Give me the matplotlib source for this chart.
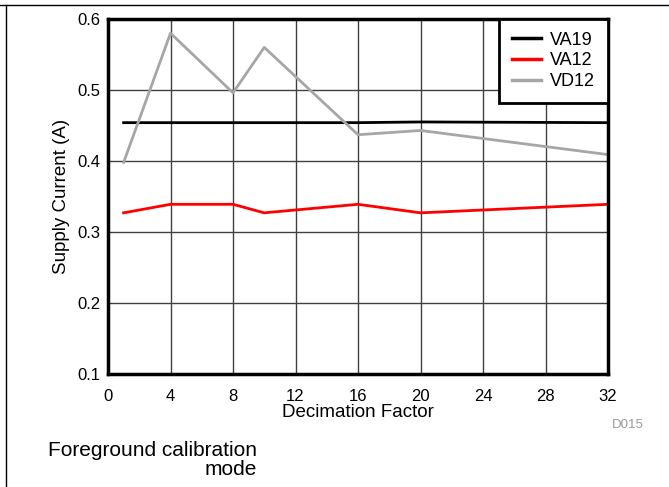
import matplotlib
matplotlib.use("Agg")
import matplotlib.pyplot as plt
from matplotlib.lines import Line2D

plt.rcParams['font.family'] = ['Liberation Sans', 'DejaVu Sans']

decimation = [1, 4, 8, 10, 16, 20, 32]
va19 = [0.454, 0.454, 0.454, 0.454, 0.454, 0.455, 0.454]
va12 = [0.327, 0.339, 0.339, 0.327, 0.339, 0.327, 0.339]
vd12 = [0.398, 0.580, 0.496, 0.560, 0.437, 0.443, 0.409]
x_ticks = [0, 4, 8, 12, 16, 20, 24, 28, 32]
y_ticks = [0.1, 0.2, 0.3, 0.4, 0.5, 0.6]

W, H = 669, 487
fig = plt.figure(figsize=(W/100, H/100), dpi=100)
ax = fig.add_axes([108/W, 1-374/H, 500/W, 355/H])

ax.plot(decimation, va19, color='black', lw=2, label='VA19')
ax.plot(decimation, va12, color='#ff0000', lw=2, label='VA12')
ax.plot(decimation, vd12, color='#a6a6a6', lw=2, label='VD12')

ax.set_xlim(0, 32)
ax.set_ylim(0.1, 0.6)
ax.set_xticks(x_ticks)
ax.set_yticks(y_ticks)
ax.set_yticklabels([f"{v:.1f}" for v in y_ticks])
ax.tick_params(length=0, labelsize=12)
ax.tick_params(axis='x', pad=10.5)
ax.tick_params(axis='y', pad=5.5)
ax.grid(True, color='#404040', lw=1)
ax.set_axisbelow(True)
for s in ax.spines.values():
    s.set_linewidth(2.5)
ax.set_xlabel('Decimation Factor', fontsize=13.5, labelpad=0)
ax.set_ylabel('Supply Current (A)', fontsize=13.5, labelpad=5)

leg = ax.legend(loc='upper right', fancybox=False, framealpha=1, fontsize=13,
                borderaxespad=0, handlelength=1.65, handletextpad=0.5,
                labelspacing=0.2, borderpad=0.7)
leg.get_frame().set_edgecolor('black')
leg.get_frame().set_linewidth(2)
for l in leg.get_lines():
    l.set_linewidth(2.5)

fig.text(612/W, 1-425/H, 'D015', fontsize=9.5, color='#999999', va='center', ha='left')
fig.text(257/W, 1-441/H, 'Foreground calibration\nmode', fontsize=15,
         ha='right', va='top', multialignment='right', linespacing=1.0)

fig.add_artist(Line2D([0, 1], [1-5/H, 1-5/H], color='black', lw=1, transform=fig.transFigure))
fig.add_artist(Line2D([6/W, 6/W], [0, 1-5/H], color='black', lw=1, transform=fig.transFigure))

fig.savefig('out.png', dpi=100)
